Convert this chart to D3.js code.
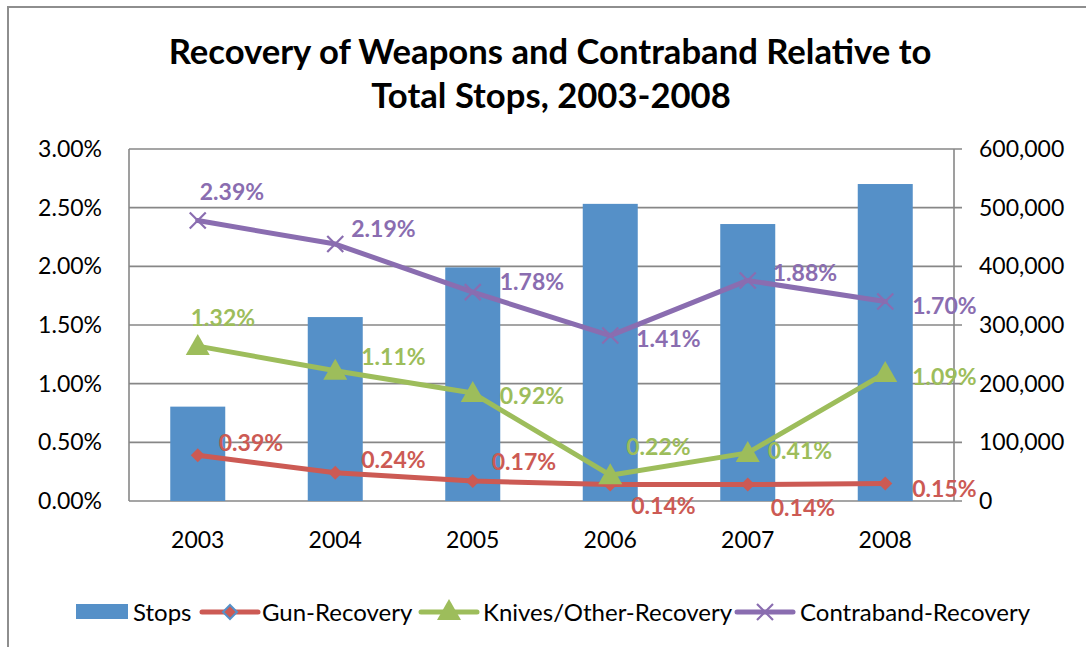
<!DOCTYPE html>
<html><head><meta charset="utf-8">
<script src="https://cdn.jsdelivr.net/npm/d3@7"></script>
<style>
html,body{margin:0;padding:0;background:#fff;}
svg{display:block;font-family:Lato, "Open Sans", sans-serif;}
</style></head>
<body>
<svg id="chart" width="1086" height="647"></svg>
<script>
// ---- data ----
const years = ["2003","2004","2005","2006","2007","2008"];
const stops = [160851, 313523, 398191, 506491, 472096, 540302];
const gunRecovery = [0.0039, 0.0024, 0.0017, 0.0014, 0.0014, 0.0015];
const knivesRecovery = [0.0132, 0.0111, 0.0092, 0.0022, 0.0041, 0.0109];
const contrabandRecovery = [0.0239, 0.0219, 0.0178, 0.0141, 0.0188, 0.0170];
const leftTicks = [0, 0.005, 0.01, 0.015, 0.02, 0.025, 0.03];
const rightTicks = [0, 100000, 200000, 300000, 400000, 500000, 600000];
const titleLines = ["Recovery of Weapons and Contraband Relative to", "Total Stops, 2003-2008"];
const legendNames = ["Stops", "Gun-Recovery", "Knives/Other-Recovery", "Contraband-Recovery"];

// ---- label placement (style, offsets from the point: left edge dx, centre dy) ----
const gunLabelOff = [[21,-13],[26,-13],[19,-19],[21,21],[23,23],[27,5]];
const knivesLabelOff = [[-7,-28],[26,-14],[27,3],[16,-28],[20,-2],[27,4]];
const contraLabelOff = [[2,-29],[16,-15],[27,-10],[26,3],[25,-8],[27,4]];

const C = {blue:"#5590C8", red:"#CC5A54", green:"#9DBD5B", purple:"#8A6DB0", grid:"#878787", text:"#000"};

const svg = d3.select("#chart");
svg.append("rect").attr("width",1086).attr("height",647).attr("fill","#fff");
// outer chart border (cropped)
svg.append("path").attr("d","M8,647 L8,7 L1086,7").attr("fill","none").attr("stroke","#8e8e8e").attr("stroke-width",2);

const L = 129, R = 954, T = 149, B = 501;
const x = d3.scaleBand().domain(years).range([L,R]).padding(0);
const yL = d3.scaleLinear().domain([0,0.03]).range([B,T]);
const yR = d3.scaleLinear().domain([0,600000]).range([B,T]);

// title
const title = svg.append("g");
const t1 = title.append("text").attr("x",550).attr("y",64).attr("text-anchor","middle")
  .attr("font-weight","bold").attr("font-size",29).text(titleLines[0]);
const w1 = t1.node().getComputedTextLength();
const fs = 29*763/w1;
t1.attr("font-size",fs);
title.append("text").attr("x",551).attr("y",108).attr("text-anchor","middle")
  .attr("font-weight","bold").attr("font-size",fs).text(titleLines[1]);

// gridlines + right ticks
const grid = svg.append("g");
grid.selectAll("line.h").data(leftTicks).join("line")
  .attr("x1",L).attr("x2",R+8).attr("y1",d=>yL(d)).attr("y2",d=>yL(d))
  .attr("stroke",C.grid).attr("stroke-width",1.6);
grid.append("line").attr("x1",L).attr("x2",L).attr("y1",T).attr("y2",B).attr("stroke",C.grid).attr("stroke-width",1.6);
grid.append("line").attr("x1",R).attr("x2",R).attr("y1",T).attr("y2",B).attr("stroke",C.grid).attr("stroke-width",1.6);

// axes labels
const leftAxis = d3.axisLeft(yL).tickValues(leftTicks).tickFormat(d3.format(".2%")).tickSize(0).tickPadding(27);
const gl = svg.append("g").attr("transform",`translate(${L},0)`).call(leftAxis);
const rightAxis = d3.axisRight(yR).tickValues(rightTicks).tickFormat(d3.format(",")).tickSize(0).tickPadding(25);
const gr = svg.append("g").attr("transform",`translate(${R},0)`).call(rightAxis);
const bottomAxis = d3.axisBottom(x).tickSize(0).tickPadding(31);
const gb = svg.append("g").attr("transform",`translate(0,${B})`).call(bottomAxis);
[gl,gr,gb].forEach(g=>{
  g.select(".domain").remove();
  g.selectAll("text").attr("font-family","Lato, 'Open Sans', sans-serif").attr("font-size",23).attr("fill",C.text);
});

// bars
const bw = x.bandwidth()*0.4;
svg.append("g").selectAll("rect").data(stops).join("rect")
  .attr("x",(d,i)=>x(years[i])+x.bandwidth()/2-bw/2)
  .attr("width",bw)
  .attr("y",d=>yR(d)).attr("height",d=>B-yR(d))
  .attr("fill",C.blue);

const cx = i => x(years[i])+x.bandwidth()/2;
const line = d3.line().x((d,i)=>cx(i)).y(d=>yL(d));

function drawSeries(vals, color, marker){
  svg.append("path").datum(vals).attr("d",line).attr("fill","none")
    .attr("stroke",color).attr("stroke-width",5).attr("stroke-linejoin","round").attr("stroke-linecap","round");
  const g = svg.append("g");
  vals.forEach((v,i)=>marker(g, cx(i), yL(v), color));
}
function diamond(g,px,py,color,stroke){
  const s=7;
  g.append("path").attr("d",`M${px},${py-s} L${px+s},${py} L${px},${py+s} L${px-s},${py} Z`)
   .attr("fill",color).attr("stroke",stroke||"none").attr("stroke-width",2);
}
function triangle(g,px,py,color){
  g.append("path").attr("d",`M${px},${py-12} L${px+12},${py+9} L${px-12},${py+9} Z`).attr("fill",color);
}
function cross(g,px,py,color){
  const s=8;
  g.append("path").attr("d",`M${px-s},${py-s} L${px+s},${py+s} M${px-s},${py+s} L${px+s},${py-s}`)
   .attr("stroke",color).attr("stroke-width",2.2).attr("fill","none");
}
drawSeries(gunRecovery, C.red, (g,a,b,c)=>diamond(g,a,b,c));
drawSeries(knivesRecovery, C.green, triangle);
drawSeries(contrabandRecovery, C.purple, cross);

function labels(vals, offs, color){
  svg.append("g").selectAll("text").data(vals).join("text")
    .attr("x",(d,i)=>cx(i)+offs[i][0]).attr("y",(d,i)=>yL(d)+offs[i][1])
    .attr("dy","0.36em").attr("font-weight","bold").attr("font-size",23).attr("fill",color)
    .text(d=>d3.format(".2%")(d));
}
labels(gunRecovery, gunLabelOff, C.red);
labels(knivesRecovery, knivesLabelOff, C.green);
labels(contrabandRecovery, contraLabelOff, C.purple);

// legend
const lg = svg.append("g");
const ly = 612;
lg.append("rect").attr("x",76).attr("y",604).attr("width",52).attr("height",15).attr("fill",C.blue);
const legendItems = [
  {name:legendNames[0], tx:133},
  {name:legendNames[1], tx:262, lx:202, color:C.red, m:(g,a,b)=>diamond(g,a,b,C.red,C.blue)},
  {name:legendNames[2], tx:483, lx:421, color:C.green, m:(g,a,b)=>triangle(g,a,b-1,C.green)},
  {name:legendNames[3], tx:800, lx:737, color:C.purple, m:(g,a,b)=>cross(g,a,b,C.purple)}
];
legendItems.forEach(it=>{
  if(it.lx!==undefined){
    lg.append("line").attr("x1",it.lx).attr("x2",it.lx+56).attr("y1",ly).attr("y2",ly)
      .attr("stroke",it.color).attr("stroke-width",5).attr("stroke-linecap","round");
    it.m(lg,it.lx+28,ly);
  }
  lg.append("text").attr("x",it.tx).attr("y",ly).attr("dy","0.36em").attr("font-size",24).attr("fill",C.text).text(it.name);
});
</script>
</body></html>
